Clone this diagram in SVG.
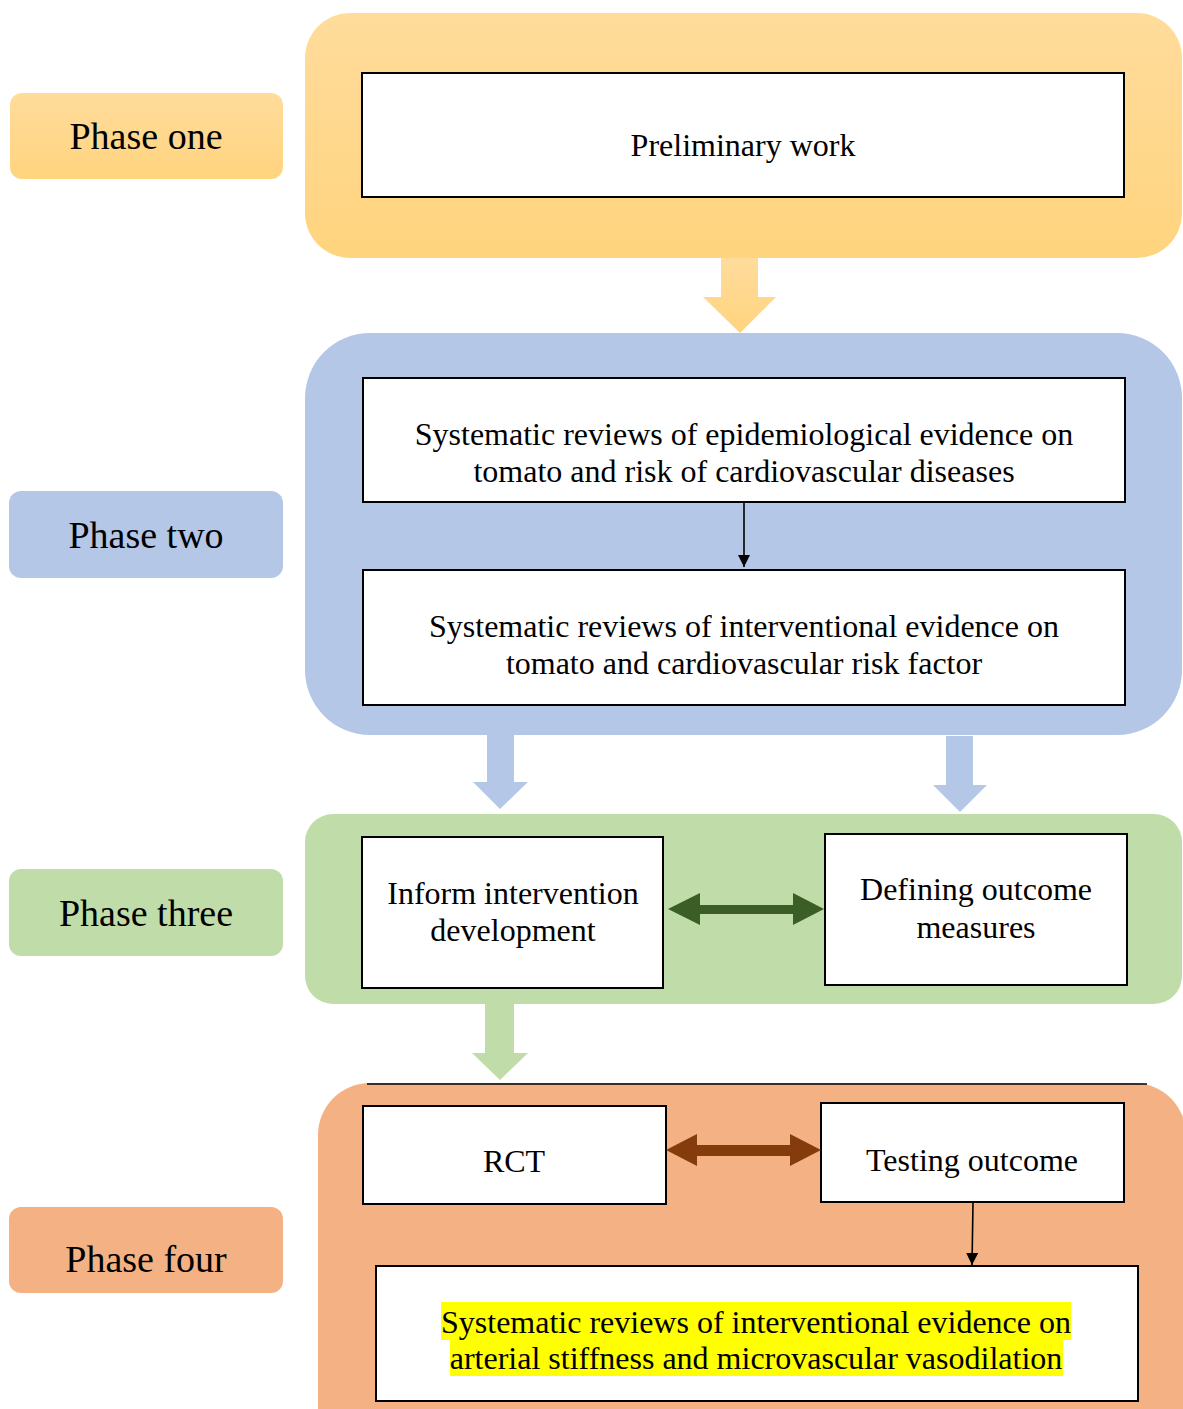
<svg xmlns="http://www.w3.org/2000/svg" width="1183" height="1409" viewBox="0 0 1183 1409">
<defs>
<linearGradient id="gOrange" x1="0" y1="0" x2="0" y2="1">
<stop offset="0" stop-color="#FFDC9C"/>
<stop offset="1" stop-color="#FFD47E"/>
</linearGradient>
<marker id="ah" viewBox="0 0 10 10" refX="10" refY="5" markerWidth="12" markerHeight="12" markerUnits="userSpaceOnUse" orient="auto">
<path d="M0,0 L10,5 L0,10 z" fill="#000"/>
</marker>
</defs>
<style>
.box{fill:#fff;stroke:#000;stroke-width:2}
.t{font-family:"Liberation Serif","Times New Roman",serif;font-size:32px;fill:#000;text-anchor:middle}
.lbl{font-family:"Liberation Serif","Times New Roman",serif;font-size:38px;fill:#000;text-anchor:middle}
.conn{stroke:#000;stroke-width:1.6;fill:none}
</style>
<rect width="1183" height="1409" fill="#fff"/>

<g id="phase1">
<rect x="305" y="13" width="877" height="245" rx="45" fill="url(#gOrange)"/>
<rect x="10" y="93" width="273" height="86" rx="12" fill="url(#gOrange)"/>
<text class="lbl" x="146" y="149">Phase one</text>
</g>
<g id="preliminary">
<rect class="box" x="362" y="73" width="762" height="124"/>
<text class="t" x="743" y="156">Preliminary work</text>
</g>

<g id="phase2">
<rect x="305" y="333" width="877" height="402" rx="65" fill="#B4C7E7"/>
<rect x="9" y="491" width="274" height="87" rx="12" fill="#B4C7E7"/>
<text class="lbl" x="146" y="548">Phase two</text>
</g>
<g id="sr-epi">
<rect class="box" x="363" y="378" width="762" height="124"/>
<text class="t" x="744" y="445">Systematic reviews of epidemiological evidence on</text>
<text class="t" x="744" y="482">tomato and risk of cardiovascular diseases</text>
</g>
<g id="sr-int">
<rect class="box" x="363" y="570" width="762" height="135"/>
<text class="t" x="744" y="637">Systematic reviews of interventional evidence on</text>
<text class="t" x="744" y="674">tomato and cardiovascular risk factor</text>
</g>

<g id="phase3">
<rect x="305" y="814" width="877" height="190" rx="28" fill="#C0DDA9"/>
<rect x="9" y="869" width="274" height="87" rx="12" fill="#C0DDA9"/>
<text class="lbl" x="146" y="926">Phase three</text>
</g>
<g id="inform">
<rect class="box" x="362" y="837" width="301" height="151"/>
<text class="t" x="513" y="904">Inform intervention</text>
<text class="t" x="513" y="941">development</text>
</g>
<g id="defining">
<rect class="box" x="825" y="834" width="302" height="151"/>
<text class="t" x="976" y="900">Defining outcome</text>
<text class="t" x="976" y="938">measures</text>
</g>

<g id="phase4">
<rect x="318" y="1083" width="868" height="380" rx="52" fill="#F4B183"/>
<line x1="367" y1="1084" x2="1147" y2="1084" stroke="#000" stroke-width="1.3"/>
<rect x="9" y="1207" width="274" height="86" rx="12" fill="#F4B183"/>
<text class="lbl" x="146" y="1272">Phase four</text>
</g>
<g id="rct">
<rect class="box" x="363" y="1106" width="303" height="98"/>
<text class="t" x="514" y="1172">RCT</text>
</g>
<g id="testing">
<rect class="box" x="821" y="1103" width="303" height="99"/>
<text class="t" x="972" y="1171">Testing outcome</text>
</g>
<g id="sr-arterial">
<rect class="box" x="376" y="1266" width="762" height="135"/>
<rect x="441" y="1302" width="630" height="38" fill="#FFFF00"/>
<rect x="450" y="1340" width="613" height="36" fill="#FFFF00"/>
<text class="t" x="756" y="1333">Systematic reviews of interventional evidence on</text>
<text class="t" x="756" y="1369">arterial stiffness and microvascular vasodilation</text>
</g>

<g id="connectors">
<path d="M721,258 H758 V297 H776 L740,333 L703,297 H721 Z" fill="url(#gOrange)"/>
<line class="conn" x1="744" y1="503" x2="744" y2="567" marker-end="url(#ah)"/>
<path d="M487,735 H514 V782 H528 L500,809 L473,782 H487 Z" fill="#B4C7E7"/>
<path d="M946,736 H973 V785 H987 L960,812 L933,785 H946 Z" fill="#B4C7E7"/>
<path d="M668,909 L700,893 V905 H793 V893 L824,909 L793,925 V914 H700 V925 Z" fill="#3B5E26"/>
<path d="M485,1004 H514 V1053 H528 L500,1080 L472,1053 H485 Z" fill="#C0DDA9"/>
<path d="M666,1150 L697,1134 V1145 H790 V1134 L821,1150 L790,1166 V1156 H697 V1166 Z" fill="#843C0C"/>
<line class="conn" x1="973" y1="1203" x2="972" y2="1265" marker-end="url(#ah)"/>
</g>
</svg>
